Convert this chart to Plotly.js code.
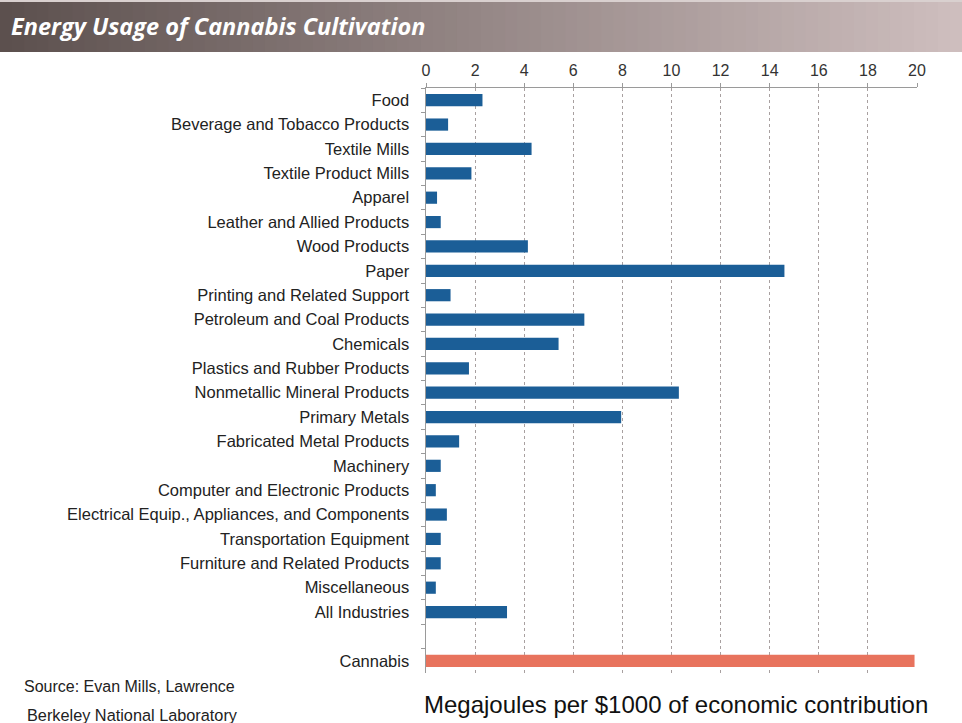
<!DOCTYPE html>
<html>
<head>
<meta charset="utf-8">
<script src="https://cdn.plot.ly/plotly-3.0.1.min.js"></script>
<style>
html,body{margin:0;padding:0;background:#fff;}
#chart{width:962px;height:723px;}
</style>
</head>
<body>
<div id="chart"></div>
<script>
// ---- data ----
const industries = [
  "Food", "Beverage and Tobacco Products", "Textile Mills", "Textile Product Mills",
  "Apparel", "Leather and Allied Products", "Wood Products", "Paper",
  "Printing and Related Support", "Petroleum and Coal Products", "Chemicals",
  "Plastics and Rubber Products", "Nonmetallic Mineral Products", "Primary Metals",
  "Fabricated Metal Products", "Machinery", "Computer and Electronic Products",
  "Electrical Equip., Appliances, and Components", "Transportation Equipment",
  "Furniture and Related Products", "Miscellaneous", "All Industries"
];
const industryValues = [
  2.3, 0.9, 4.3, 1.85,
  0.45, 0.6, 4.15, 14.6,
  1.0, 6.45, 5.4,
  1.75, 10.3, 7.95,
  1.35, 0.6, 0.4,
  0.85, 0.6,
  0.6, 0.4, 3.3
];
const cannabisLabel = ["Cannabis"];
const cannabisValue = [19.9];
const xTickValues = [0, 2, 4, 6, 8, 10, 12, 14, 16, 18, 20];
const titleText = "Energy Usage of Cannabis Cultivation";
const xTitleText = "Megajoules per $1000 of economic contribution";
const sourceLines = ["Source: Evan Mills, Lawrence", "Berkeley National Laboratory"];

// ---- layout geometry ----
const W = 962, H = 723;
const mL = 426, mR = 45, mT = 88, mB = 50;
const pw = W - mL - mR, ph = H - mT - mB;
const px = x => (x - mL) / pw;          // pixel -> paper x
const py = y => (H - mB - y) / ph;      // pixel -> paper y

const categoryOrder = industries.concat([" "], cannabisLabel);

const traces = [
  {
    type: "bar", orientation: "h",
    x: industryValues, y: industries,
    marker: {color: "#1b5e97"},
    width: 0.5, hoverinfo: "x+y", showlegend: false
  },
  {
    type: "bar", orientation: "h",
    x: cannabisValue, y: cannabisLabel,
    marker: {color: "#e8735d"},
    width: 0.5, hoverinfo: "x+y", showlegend: false
  }
];

// gradient banner built from thin strips
const shapes = [];
const c0 = [92, 80, 78], c1 = [206, 190, 190];
const N = 80;
for (let i = 0; i < N; i++) {
  const t = i / (N - 1);
  const r = Math.round(c0[0] + (c1[0] - c0[0]) * t);
  const g = Math.round(c0[1] + (c1[1] - c0[1]) * t);
  const b = Math.round(c0[2] + (c1[2] - c0[2]) * t);
  shapes.push({
    type: "rect", xref: "paper", yref: "paper", layer: "below",
    x0: px(W * i / N), x1: px(W * (i + 1) / N + 1),
    y0: py(52), y1: py(2),
    fillcolor: `rgb(${r},${g},${b})`, line: {width: 0}
  });
}
shapes.push({type: "rect", xref: "paper", yref: "paper", layer: "below",
  x0: px(0), x1: px(W), y0: py(2), y1: py(0), fillcolor: "#d9d0cf", line: {width: 0}});

const annotations = [
  {xref: "paper", yref: "paper", x: px(9), y: py(26), xanchor: "left", yanchor: "middle",
   text: titleText, showarrow: false,
   font: {family: "Open Sans", size: 23.5, color: "#ffffff", weight: 700, style: "italic"}},
  {xref: "paper", yref: "paper", x: px(676), y: py(704), xanchor: "center", yanchor: "middle",
   text: xTitleText, showarrow: false,
   font: {family: "Liberation Sans, Arial", size: 24, color: "#111111"}},
  {xref: "paper", yref: "paper", x: px(22), y: py(686), xanchor: "left", yanchor: "middle",
   text: sourceLines[0], showarrow: false,
   font: {family: "Liberation Sans, Arial", size: 16, color: "#222222"}},
  {xref: "paper", yref: "paper", x: px(25), y: py(715), xanchor: "left", yanchor: "middle",
   text: sourceLines[1], showarrow: false,
   font: {family: "Liberation Sans, Arial", size: 16.3, color: "#222222"}}
];

const layout = {
  width: W, height: H,
  margin: {l: mL, r: mR, t: mT, b: mB, pad: 0},
  paper_bgcolor: "#ffffff", plot_bgcolor: "#ffffff",
  showlegend: false,
  bargap: 0.5,
  xaxis: {
    side: "top", range: [0, 20], tickvals: xTickValues,
    ticktext: xTickValues.map(String),
    showgrid: true, gridcolor: "#a8a0a0", griddash: "dot", gridwidth: 1,
    zeroline: false, showline: true, linecolor: "#9a9a9a", linewidth: 1.5,
    ticks: "outside", ticklen: 4, tickcolor: "#9a9a9a",
    tickfont: {family: "Liberation Sans, Arial", size: 16, color: "#333333"},
    fixedrange: true
  },
  yaxis: {
    type: "category", categoryorder: "array", categoryarray: categoryOrder,
    range: [categoryOrder.length - 0.5, -0.5],
    showgrid: false, zeroline: false, showline: true, linecolor: "#9a9a9a", linewidth: 1.5,
    ticks: "outside", ticklen: 4, tickcolor: "#9a9a9a", tickson: "boundaries",
    ticklabelstandoff: 12,
    tickfont: {family: "Liberation Sans, Arial", size: 16.5, color: "#222222"},
    fixedrange: true
  },
  shapes: shapes,
  annotations: annotations
};

Plotly.newPlot("chart", traces, layout, {displayModeBar: false, staticPlot: true});
</script>
</body>
</html>
